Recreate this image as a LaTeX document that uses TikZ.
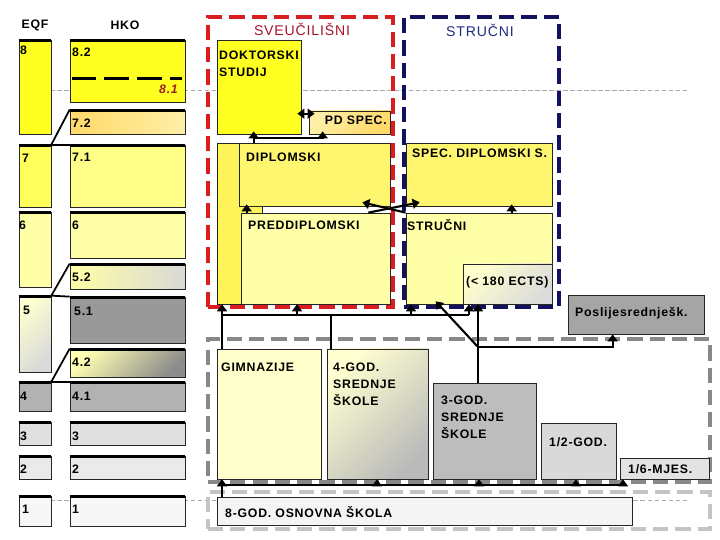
\documentclass[tikz,border=0pt]{standalone}
\usepackage{fontspec}
\newfontfamily\hkofont[LetterSpace=6]{Liberation Sans}
\usepackage{tikz}
\usetikzlibrary{arrows.meta, positioning, calc, fit}
\tikzset{every node/.style={font=\hkofont\bfseries\fontsize{10.5}{12}\selectfont}}
\usepackage{xcolor}
\definecolor{lvA}{HTML}{FFFF22}
\definecolor{lvB}{HTML}{FFFF5C}
\definecolor{lvBb}{HTML}{FFFF88}
\definecolor{lvC}{HTML}{FFFFA8}
\definecolor{dipcol}{HTML}{FFF670}
\definecolor{backcol}{HTML}{FFF35A}
\definecolor{gimcol}{HTML}{FFFFCC}
\definecolor{grA}{HTML}{999999}
\definecolor{grB}{HTML}{B2B2B2}
\definecolor{grC}{HTML}{E0E0E0}
\definecolor{grD}{HTML}{EAEAEA}
\definecolor{grE}{HTML}{F7F7F7}
\definecolor{god3col}{HTML}{BDBDBD}
\definecolor{postcol}{HTML}{A5A5A5}
\definecolor{halfcol}{HTML}{D9D9D9}
\definecolor{mjescol}{HTML}{E3E3E3}
\definecolor{osncol}{HTML}{F4F4F4}
\definecolor{orA}{HTML}{FFD96A}
\definecolor{orB}{HTML}{FFEFA6}
\definecolor{svred}{HTML}{D81E1E}
\definecolor{svtxt}{HTML}{A8102C}
\definecolor{stblue}{HTML}{12125E}
\definecolor{sttxt}{HTML}{1F2A80}
\definecolor{guidegray}{HTML}{ABABAB}
\definecolor{secgray}{HTML}{888888}
\definecolor{prigray}{HTML}{C4C4C4}
\definecolor{redlvl}{HTML}{9A1F1F}

\begin{document}
\begin{tikzpicture}[x=0.03cm, y=-0.03cm,
    lvl/.style={draw=black!85, line width=0.6pt, inner sep=0pt},
    txt/.style={anchor=west, inner sep=0pt},
    multi/.style={txt, align=left, font=\hkofont\bfseries\fontsize{10.5}{14.5}\selectfont},
    ttl/.style={inner sep=0pt, font=\hkofont\fontsize{12}{14}\selectfont},
    topbar/.style={line width=2.6pt},
    midbar/.style={line width=2.6pt, dash pattern=on 21pt off 7pt},
    link/.style={line width=1.5pt},
    conn/.style={line width=1.8pt},
    arr/.style={conn, -{Triangle[width=8.5pt,length=6pt]}},
    dblarr/.style={conn, {Triangle[width=8.5pt,length=6pt]}-{Triangle[width=8.5pt,length=6pt]}},
    frame/.style={line width=2.6pt, dash pattern=on 13pt off 6pt, inner sep=0pt},
    guide/.style={draw=guidegray, line width=0.6pt, dash pattern=on 4pt off 2pt}]
    \useasboundingbox (0,0) rectangle (720,540);
    % thin guide lines
    \coordinate (ga) at (50,90);
    \coordinate (gb) at (687,90);
    \coordinate (gc) at (50,500);
    \coordinate (gd) at (687,500);
    \draw[guide] (ga) -- (gb);
    \draw[guide] (gc) -- (gd);
    % frames
    \node[frame, draw=svred, fit={(208,17) (393,307)}] (sveu) {};
    \node[frame, draw=stblue, fit={(404,17) (559,307)}] (struc) {};
    \node[frame, draw=secgray, fit={(208,339) (710,482)}] (sec) {};
    \node[frame, draw=prigray, fit={(208,492) (710,529)}] (pri) {};
    \node[ttl, text=svtxt] (tsveu) at (302,29) {SVEUČILIŠNI};
    \node[ttl, text=sttxt] (tstruc) at (480,30) {STRUČNI};
    % EQF column
    \node[inner sep=0pt] (eqf) at (35,25) {EQF};
    \node[inner sep=0pt] (hko) at (125,25) {HKO};
    \node[lvl, fill=lvA, fit={(19,40) (51,134)}] (e8) {};
    \node[lvl, fill=lvB, fit={(19,145) (51,207)}] (e7) {};
    \node[lvl, fill=lvC, fit={(19,212) (51,287)}] (e6) {};
    \node[lvl, left color=yellow!18, right color=black!15, shading angle=45, fit={(19,296) (51,372)}] (e5) {};
    \node[lvl, fill=grB, fit={(19,382) (51,411)}] (e4) {};
    \node[lvl, fill=grC, fit={(19,422) (51,445)}] (e3) {};
    \node[lvl, fill=grD, fit={(19,456) (51,479)}] (e2) {};
    \node[lvl, fill=grE, fit={(19,496) (51,526)}] (e1) {};
    % HKO column
    \node[lvl, fill=lvA, fit={(70,40) (185,102)}] (h82) {};
    \node[lvl, left color=orA, right color=orB, fit={(70,110) (185,134)}] (h72) {};
    \node[lvl, fill=lvBb, fit={(70,145) (185,207)}] (h71) {};
    \node[lvl, fill=lvC, fit={(70,212) (185,258)}] (h6) {};
    \node[lvl, left color=yellow!35, right color=black!15, fit={(70,264) (185,289)}] (h52) {};
    \node[lvl, fill=grA, fit={(70,297) (185,343)}] (h51) {};
    \node[lvl, left color=yellow!30, right color=black!45, shading angle=45, fit={(70,349) (185,377)}] (h42) {};
    \node[lvl, fill=grB, fit={(70,382) (185,411)}] (h41) {};
    \node[lvl, fill=grC, fit={(70,422) (185,445)}] (h3) {};
    \node[lvl, fill=grD, fit={(70,456) (185,479)}] (h2) {};
    \node[lvl, fill=grE, fit={(70,496) (185,526)}] (h1) {};
    \draw[midbar] ($(h82.north west)+(2,39)$) -- ($(h82.north east)+(-3,39)$);
    \draw[link] (e7.north east) -- (h72.north west);
    \draw[link] (e7.north east) -- (h71.north west);
    \draw[link] (e5.north east) -- (h52.north west);
    \draw[link] (e5.north east) -- (h51.north west);
    \draw[link] (e4.north east) -- (h42.north west);
    \draw[link] (e4.north east) -- (h41.north west);
    \foreach \n in {e8,e7,e6,e5,e4,e3,e2,e1,h82,h72,h71,h6,h52,h51,h42,h41,h3,h2,h1}
      \draw[topbar] ([yshift=-1pt]\n.north west) -- ([yshift=-1pt]\n.north east);
    \node[txt] (te8) at (20,50) {8};
    \node[txt] (te7) at (22,158) {7};
    \node[txt] (te6) at (19,225) {6};
    \node[txt] (te5) at (23,310) {5};
    \node[txt] (te4) at (20,396) {4};
    \node[txt] (te3) at (20,436) {3};
    \node[txt] (te2) at (20,469) {2};
    \node[txt] (te1) at (22,509) {1};
    \node[txt] (th82) at (72,52) {8.2};
    \node[txt, anchor=east, text=redlvl, font=\hkofont\bfseries\itshape\fontsize{10.5}{12}\selectfont] (th81) at (178,89) {8.1};
    \node[txt] (th72) at (72,123) {7.2};
    \node[txt] (th71) at (72,157) {7.1};
    \node[txt] (th6) at (72,225) {6};
    \node[txt] (th52) at (72,277) {5.2};
    \node[txt] (th51) at (74,311) {5.1};
    \node[txt] (th42) at (72,362) {4.2};
    \node[txt] (th41) at (72,396) {4.1};
    \node[txt] (th3) at (72,436) {3};
    \node[txt] (th2) at (72,469) {2};
    \node[txt] (th1) at (72,509) {1};
    % studies
    \node[lvl, fill=lvA, fit={(217,40) (301,134)}] (dok) {};
    \node[lvl, left color=orB, right color=orA, shading angle=60, fit={(309,111) (390,134)}] (pd) {};
    \node[lvl, fill=backcol, fit={(217,143) (262,304)}] (back) {};
    \node[lvl, fill=dipcol, fit={(239,143) (390,206)}] (dip) {};
    \node[lvl, fill=lvC, fit={(241,213) (390,304)}] (pred) {};
    \node[lvl, fill=dipcol, fit={(406,143) (552,206)}] (sdip) {};
    \node[lvl, fill=lvC, fit={(406,213) (552,304)}] (str) {};
    \node[lvl, left color=yellow!20, right color=black!14, shading angle=45, fit={(463,264) (552,304)}] (ects) {};
    \node[lvl, fill=postcol, fit={(568,295) (704,334)}] (post) {};
    % schools
    \node[lvl, fill=gimcol, fit={(217,349) (321,479)}] (gim) {};
    \node[lvl, left color=yellow!18, right color=black!27, shading angle=45, fit={(327,349) (428,479)}] (god4) {};
    \node[lvl, fill=god3col, fit={(433,383) (536,479)}] (god3) {};
    \node[lvl, fill=halfcol, fit={(541,423) (616,479)}] (god12) {};
    \node[lvl, fill=mjescol, fit={(620,458) (709,479)}] (mjes) {};
    \node[lvl, fill=osncol, fit={(217,497) (632,525)}] (osn) {};
    \node[multi] (tdok) at (219,63.5) {DOKTORSKI\\STUDIJ};
    \node[txt, anchor=east] (tpd) at (387,120) {PD SPEC.};
    \node[txt] (tdip) at (246,157) {DIPLOMSKI};
    \node[txt] (tpred) at (248,225) {PREDDIPLOMSKI};
    \node[txt] (tsdip) at (412,153) {SPEC. DIPLOMSKI S.};
    \node[txt] (tstr) at (407,225) {STRUČNI};
    \node[txt] (tects) at (466,282) {(< 180 ECTS)};
    \node[txt] (tpost) at (575,313) {Poslijesrednješk.};
    \node[txt] (tgim) at (221,367) {GIMNAZIJE};
    \node[multi] (tgod4) at (333,384) {4-GOD.\\SREDNJE\\ŠKOLE};
    \node[multi] (tgod3) at (441,417) {3-GOD.\\SREDNJE\\ŠKOLE};
    \node[txt] (tgod12) at (549,442) {1/2-GOD.};
    \node[txt] (tmjes) at (628,469) {1/6-MJES.};
    \node[txt] (tosn) at (225,512) {8-GOD. OSNOVNA ŠKOLA};
    % university arrows
    \draw[dblarr] ($(dok.north east)+(-4,74)$) -- ($(pd.north west)+(6,3)$);
    \draw[arr] ($(dip.north west)+(15,0)$) -- ($(dok.south west)+(37,-3)$);
    \draw[arr] ($(dip.north west)+(15,-5)$) -| ($(pd.south west)+(14,-3)$);
    \draw[arr] ($(pred.north west)+(6,0)$) -- ($(dip.south west)+(8,-2)$);
    \draw[arr] ($(str.north west)+(106,0)$) -- ($(sdip.south west)+(106,-2)$);
    \draw[arr] ($(pred.north east)+(-22,0)$) -- ($(sdip.south west)+(14,-4)$);
    \draw[arr] (str.north west) -- ($(dip.south east)+(-28,-4)$);
    % upper bus
    \coordinate (ubl) at (222,315);
    \coordinate (ub4) at (331,315);
    \coordinate (ubp) at (297,315);
    \coordinate (ubs) at (411,315);
    \coordinate (ubr) at (469,315);
    \draw[conn] (ubl) -- (ubr);
    \draw[conn] (gim.north -| ubl) -- (ubl);
    \draw[conn] (god4.north -| ub4) -- (ub4);
    \draw[arr] (ubl) -- (back.south -| ubl);
    \draw[arr] (ubp) -- (pred.south -| ubp);
    \draw[arr] (ubs) -- (str.south -| ubs);
    \draw[arr] (ubr) -- (ects.south -| ubr);
    % from 3-god
    \coordinate (br) at (478,347);
    \coordinate (pa) at ($(post.south west)+(45,0)$);
    \draw[arr] (god3.north -| br) -- (ects.south -| br);
    \draw[arr] (br) -- ($(str.south west)+(30,-3)$);
    \draw[arr] (br) -| (pa);
    % lower bus
    \coordinate (lbl) at (222,485);
    \coordinate (lb4) at (377,485);
    \coordinate (lb3) at (479,485);
    \coordinate (lb12) at (576,485);
    \coordinate (lbm) at (623,485);
    \coordinate (lbr) at (625,485);
    \draw[conn] (osn.north -| lbl) -- (lbl) -- (lbr);
    \draw[arr] (lbl) -- (gim.south -| lbl);
    \draw[arr] (lb4) -- (god4.south -| lb4);
    \draw[arr] (lb3) -- (god3.south -| lb3);
    \draw[arr] (lb12) -- (god12.south -| lb12);
    \draw[arr] (lbm) -- (mjes.south -| lbm);
\end{tikzpicture}
\end{document}
